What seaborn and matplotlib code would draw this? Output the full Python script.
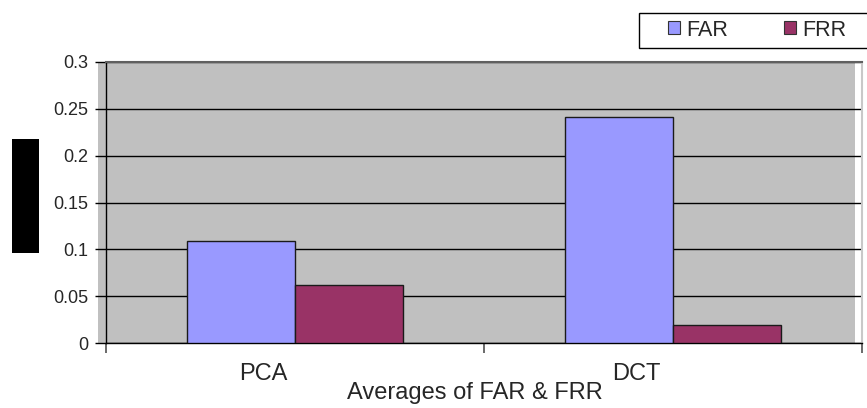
import matplotlib
matplotlib.use("Agg")
import matplotlib.pyplot as plt
import matplotlib.transforms as mtransforms
from matplotlib.patches import Rectangle
import pandas as pd
import seaborn as sns

# Average error rates per feature-extraction method
methods = ["PCA", "DCT"]
far = [0.109, 0.241]
frr = [0.062, 0.019]
metrics = ["FAR", "FRR"]
yticks = [0, 0.05, 0.1, 0.15, 0.2, 0.25, 0.3]
ytick_labels = ["0", "0.05", "0.1", "0.15", "0.2", "0.25", "0.3"]

df = pd.DataFrame({
    "method": methods * 2,
    "metric": ["FAR"] * len(methods) + ["FRR"] * len(methods),
    "value": far + frr,
})

sns.set_theme(style="white")
plt.rcParams["font.family"] = ["Liberation Sans", "DejaVu Sans"]

W, H = 867, 408
fig = plt.figure(figsize=(W / 100, H / 100), dpi=100)


def fig_rect(x0, y0, x1, y1, **kw):
    """Rectangle given in pixel coordinates measured from the top-left corner."""
    return Rectangle((x0 / W, 1 - y1 / H), (x1 - x0) / W, (y1 - y0) / H,
                     transform=fig.transFigure, **kw)


ax = fig.add_axes([106 / W, 1 - 343 / H, (862 - 106) / W, (343 - 62) / H])
ax.set_facecolor("none")

# grey plot-area backdrop, starting a little left of the value axis
fig.patches.append(fig_rect(98, 62, 855, 343, facecolor="#C0C0C0",
                            edgecolor="none", zorder=-10))
# black block left of the value axis
fig.patches.append(fig_rect(12, 139, 39, 253, facecolor="black",
                            edgecolor="none", zorder=5))

palette = {"FAR": "#9999FF", "FRR": "#993366"}
sns.barplot(data=df, x="method", y="value", hue="metric", hue_order=metrics,
            palette=palette, width=0.57, gap=0, edgecolor="#1a1a1a",
            linewidth=1, saturation=1, ax=ax, legend=False, zorder=3)

ax.set_xlim(-0.5, 1.5)
ax.set_ylim(0, 0.3)
ax.set_yticks(yticks)
ax.set_yticklabels(ytick_labels, fontsize=13)
ax.yaxis.grid(True, color="black", linewidth=1)
ax.set_axisbelow(True)
ax.tick_params(axis="y", which="major", direction="out", length=8, width=1,
               color="black", pad=5, left=True)

# category boundary ticks on the x axis
ax.set_xticks([-0.5, 0.5, 1.5], minor=True)
ax.tick_params(axis="x", which="minor", direction="out", length=7, width=1.2,
               color="#505050", bottom=True)
ax.tick_params(axis="x", which="major", length=0, pad=14.5, labelsize=17)
for lab, dx in zip(ax.get_xticklabels(), [-32, -37]):
    lab.set_transform(lab.get_transform() +
                      mtransforms.ScaledTranslation(dx / 100, 0, fig.dpi_scale_trans))

ax.spines["top"].set_color("#606060")
ax.spines["top"].set_linewidth(1.5)
ax.spines["right"].set_color("#C8C8C8")
ax.spines["right"].set_linewidth(1.5)
for s in ["left", "bottom"]:
    ax.spines[s].set_color("black")
    ax.spines[s].set_linewidth(1)

ax.set_ylabel("")
ax.set_xlabel("Averages of FAR & FRR", fontsize=17)
ax.xaxis.set_label_coords((475 - 106) / 756, -(382.5 - 343) / 281)

# legend frame running off the right edge
fig.patches.append(fig_rect(639, 13, 900, 48, facecolor="white",
                            edgecolor="black", linewidth=1, zorder=4))
handles = [Rectangle((0, 0), 1, 1, facecolor=palette[m], edgecolor="#333333", linewidth=0.8)
           for m in metrics]
leg = fig.legend(handles, metrics, loc="center left", bbox_to_anchor=(668 / W, 1 - 30 / H),
                 ncol=2, frameon=False, fontsize=15.5,
                 handlelength=0.55, handleheight=0.55, handletextpad=0.3,
                 columnspacing=2.6, borderpad=0, borderaxespad=0)
leg.set_zorder(6)

fig.savefig("out.png", dpi=100)
